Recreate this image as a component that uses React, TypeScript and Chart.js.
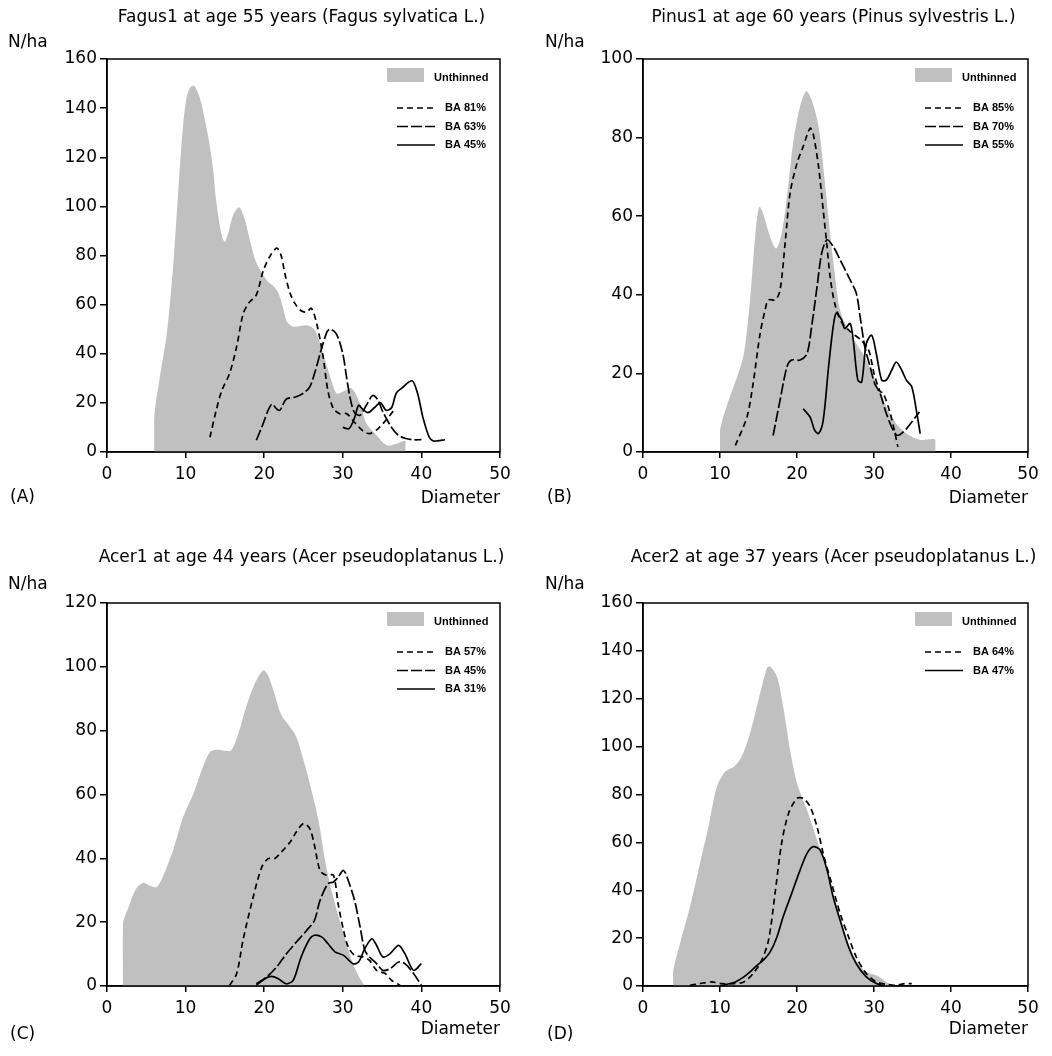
import React, { useEffect, useRef } from "react";
import { Chart, registerables } from "chart.js";

Chart.register(...registerables);

type Pt = [number, number];

// ---------- Data: [diameter, N/ha] ----------
const diameterTicks = [0, 10, 20, 30, 40, 50];

// (A) Fagus1
const fagusUnthinned: Pt[] = [[6,0],[6,14],[6.7,30],[7.6,48],[8.4,75],[9.0,103],[9.6,130],[10.1,144],[10.6,148.5],[11.1,149],[11.6,146],[12.0,142],[12.9,128],[13.5,115],[13.9,102],[14.6,88],[15.0,85.6],[15.5,90],[16.0,96],[16.8,99.6],[17.5,95],[18.2,86],[19.0,77],[20.3,70],[21.6,66],[22.3,60],[22.9,53],[23.7,51],[25.4,51.6],[26.2,50.5],[26.7,48],[27.5,40],[28.4,30.6],[29.2,23.8],[30.0,24.5],[31.1,26],[32.2,19.7],[33.0,11.6],[34.3,6.8],[35.6,2.7],[36.8,3.4],[38.0,4.5],[38.0,0]];
const fagusBA81: Pt[] = [[13.1,6],[13.9,17],[14.6,25],[15.6,32],[16.5,43],[17.3,56],[18.0,60.5],[19.0,64],[19.9,74],[20.7,79.5],[21.6,83],[22.2,79.5],[22.6,73],[23.3,64.6],[23.9,60.5],[24.7,57.5],[25.4,57],[26.0,58.5],[26.7,52],[27.5,38.7],[28.1,25],[28.8,17.7],[29.6,15.6],[30.5,15.6],[31.5,12],[32.6,8.5],[33.4,7.5],[34.5,9.5],[35.5,13],[36.5,17]];
const fagusBA63: Pt[] = [[19.0,4.8],[19.8,11],[20.5,17],[21.0,19.5],[21.6,17.5],[22.0,17],[22.8,21.5],[24.0,22.4],[25.0,24],[25.8,26.5],[26.5,33],[27.2,41],[28.0,49],[28.4,50],[29.2,48],[30.0,40],[30.5,30],[31.0,21],[31.5,16],[32.2,15],[33.0,19],[33.8,23],[34.5,21],[35.0,17],[36.0,11],[37.0,7],[38.0,5.5],[39.0,5],[40.0,5]];
const fagusBA45: Pt[] = [[30.0,10],[30.8,9.5],[31.5,14],[32.0,19],[32.5,17.5],[33.2,16],[34.0,18],[34.8,20],[35.5,17],[36.2,18],[36.8,24],[37.5,26],[38.8,29],[39.5,24],[40.2,14],[41.0,6],[41.5,4.5],[42.0,4.5],[43.0,5]];

// (B) Pinus1
const pinusUnthinned: Pt[] = [[10,0],[10,5.5],[10.9,11.9],[12.2,19],[13.1,25],[13.9,38.7],[14.6,55.6],[15.1,62.4],[15.6,60.7],[16.5,54.8],[17.3,51.8],[18.0,55.6],[18.7,65],[19.5,78.6],[20.4,88],[21.2,91.8],[21.9,89.6],[22.8,82.8],[23.6,69],[24.3,55.6],[24.9,45.5],[25.6,36],[26.7,31],[27.7,27.6],[29.0,23.4],[30.3,17.4],[31.6,11.5],[32.9,7.2],[34.2,4.7],[36.0,3.1],[38.0,3.1],[38.0,0]];
const pinusBA85: Pt[] = [[12.0,1.7],[13.5,8.9],[14.3,17.4],[15.2,30],[15.9,36.5],[16.3,38.7],[17.2,38.7],[17.8,41.2],[18.5,54],[19.1,65.8],[20.0,73.5],[20.8,77.7],[21.7,82.4],[22.1,81],[22.8,72.6],[23.4,61.6],[23.9,52.3],[24.3,44.6],[24.9,37.8],[25.8,33],[27.0,30.5],[28.3,28.5],[29.3,26],[30.0,20],[30.8,15.4],[31.2,15],[32.1,9.9],[32.7,5],[33.1,1.3]];
const pinusBA70: Pt[] = [[16.9,4.2],[17.8,13.2],[18.7,21.7],[19.3,23.4],[20.4,23.4],[21.3,25],[21.9,31.9],[22.6,42],[23.2,50.5],[23.9,54],[24.7,52.3],[25.6,48.9],[26.9,43.8],[27.7,40.4],[28.2,34.4],[28.8,26.8],[29.5,21.7],[30.1,17.4],[30.8,14.9],[31.6,9.8],[32.5,5.5],[33.1,4.2],[34.2,5.9],[35.9,10.2]];
const pinusBA55: Pt[] = [[20.8,11],[21.7,8.9],[22.3,5.5],[22.8,4.7],[23.4,8],[24.1,21.7],[24.7,31.9],[25.1,35.3],[25.8,33.6],[26.2,31.4],[26.9,32.7],[27.3,28.5],[27.9,18.3],[28.4,17.8],[29.0,27.6],[29.7,29.7],[30.3,25],[31.0,18.3],[31.6,18.3],[32.3,20.8],[32.9,22.9],[33.6,20.8],[34.2,18.3],[34.9,16.6],[35.5,10.6],[36.0,4.7]];

// (C) Acer1
const acer1Unthinned: Pt[] = [[2.0,0],[2.0,19],[2.9,25.8],[3.7,30.5],[4.6,32.3],[5.4,31.5],[6.3,31],[7.1,34.2],[8.4,42.5],[9.7,53],[11.0,60.3],[12.2,68.6],[13.1,73.3],[13.9,74],[14.8,73.8],[15.8,73.8],[16.7,79],[17.7,87.4],[18.8,94.7],[19.9,98.9],[20.5,97.3],[21.3,91.6],[22.2,84.8],[23.3,81.1],[24.1,78],[25.0,70.7],[25.8,63.4],[26.9,51.9],[27.9,37.3],[29.0,25.8],[30.1,16.4],[31.3,7],[32.2,2.3],[32.8,0]];
const acer1BA57: Pt[] = [[15.6,0.2],[16.5,3.9],[17.3,14.3],[18.6,27.9],[19.7,37.3],[20.5,39.9],[21.3,39.9],[22.2,42],[23.3,45.1],[24.1,48.3],[25.0,50.9],[25.8,49.3],[26.4,44],[27.1,36.2],[27.9,34.7],[28.8,34.7],[29.4,25.8],[30.1,17.4],[30.7,12.2],[31.5,9.6],[32.6,9.1],[33.4,8],[34.3,4.9],[35.4,3.9],[36.2,1.8],[37.3,0.2]];
const acer1BA45: Pt[] = [[19.0,0.7],[20.3,2.8],[21.6,6],[22.8,10],[24.1,13.8],[25.4,17.4],[26.4,20.6],[27.1,26.8],[28.1,32],[28.8,32.6],[29.4,34.1],[30.1,36.2],[30.7,33],[31.5,26.8],[32.2,18.5],[32.8,11.2],[33.4,9.1],[34.3,7],[35.1,4.9],[36.0,5.4],[37.1,7.5],[37.9,7],[39.0,3.9],[40.0,0.2]];
const acer1BA31: Pt[] = [[19.0,0.2],[20.1,2.3],[20.9,3],[21.8,2.3],[22.8,0.7],[23.7,1.8],[24.7,9.1],[25.8,14.8],[26.4,15.9],[27.3,15.4],[28.1,13.3],[29.0,10.7],[30.1,9.6],[31.3,7],[32.0,7.5],[32.8,11.7],[33.7,14.8],[34.3,12.7],[35.1,9.1],[36.0,10.1],[37.1,12.7],[37.9,10.1],[39.0,4.9],[40.0,7]];

// (D) Acer2
const acer2Unthinned: Pt[] = [[3.9,0],[3.9,5.9],[4.8,17.7],[6.1,33],[7.4,51.2],[8.5,66.5],[9.6,83.3],[10.7,89.6],[11.8,91.6],[12.8,95.8],[13.9,105.6],[15.0,119.5],[16.1,132.8],[16.5,133.5],[17.4,129.3],[18.2,116.8],[19.1,98.6],[20.0,84.7],[21.3,73.5],[22.6,61],[23.9,47],[25.2,33],[26.4,20.5],[27.7,10.7],[29.0,5.9],[30.3,4.5],[31.6,1.7],[32.5,0]];
const acer2BA64: Pt[] = [[6.1,0.3],[7.4,1],[8.9,1.7],[10.2,1],[11.8,1],[13.1,1.7],[14.3,5.2],[15.4,10.7],[16.3,19.1],[17.2,40],[18.0,59.6],[18.9,72.1],[20.0,78.4],[20.8,78.4],[21.7,74.9],[22.6,66.5],[23.4,55.4],[24.5,42.8],[25.6,30.3],[26.7,20.5],[27.7,12.1],[29.0,5.2],[30.3,1.7],[31.6,0.7],[32.9,0.3],[34.0,1],[34.9,1]];
const acer2BA47: Pt[] = [[10.0,0],[10.9,0.7],[12.0,1.7],[13.1,3.8],[13.9,5.9],[14.8,8.6],[15.6,10.7],[16.5,14.2],[17.4,20.5],[18.2,28.9],[19.3,38.6],[20.4,48.4],[21.3,55.4],[22.1,58.2],[23.0,56.8],[23.9,48.4],[24.7,37.2],[25.6,27.5],[26.7,16.3],[27.7,9.3],[29.0,3.8],[30.3,1],[31.4,0]];

// ---------- Layout / style ----------
const PANEL_W = 526;
const PANEL_H = 528;
const YW = 45;
const XH = 30;
const FONT = "'DejaVu Sans', sans-serif";
const SHORT_DASH = [6, 4];
const LONG_DASH = [11, 3];
const SOLID: number[] = [];
const GREY = "#c0c0c0";

interface Series { label: string; data: Pt[]; dash: number[]; }
interface PanelSpec {
  x: number; y: number;
  area: { l: number; t: number; r: number; b: number };
  title: string; letter: string; yMax: number;
  unthinned: Pt[]; series: Series[];
  titleY: number; nhaX: number; nhaY: number; letterX: number; letterY: number; diamY: number;
}

const panels: PanelSpec[] = [
  {
    x: 0, y: 0, area: { l: 107, t: 59, r: 500, b: 452 },
    title: "Fagus1 at age 55 years (Fagus sylvatica L.)", letter: "(A)", yMax: 160,
    unthinned: fagusUnthinned,
    series: [
      { label: "BA 81%", data: fagusBA81, dash: SHORT_DASH },
      { label: "BA 63%", data: fagusBA63, dash: LONG_DASH },
      { label: "BA 45%", data: fagusBA45, dash: SOLID },
    ],
    titleY: 18, nhaX: 8, nhaY: 43, letterX: 10, letterY: 498, diamY: 499,
  },
  {
    x: 526, y: 0, area: { l: 117, t: 59, r: 502, b: 452 },
    title: "Pinus1 at age 60 years (Pinus sylvestris L.)", letter: "(B)", yMax: 100,
    unthinned: pinusUnthinned,
    series: [
      { label: "BA 85%", data: pinusBA85, dash: SHORT_DASH },
      { label: "BA 70%", data: pinusBA70, dash: LONG_DASH },
      { label: "BA 55%", data: pinusBA55, dash: SOLID },
    ],
    titleY: 18, nhaX: 19, nhaY: 43, letterX: 21, letterY: 498, diamY: 499,
  },
  {
    x: 0, y: 528, area: { l: 107, t: 75, r: 500, b: 458 },
    title: "Acer1 at age 44 years (Acer pseudoplatanus L.)", letter: "(C)", yMax: 120,
    unthinned: acer1Unthinned,
    series: [
      { label: "BA 57%", data: acer1BA57, dash: SHORT_DASH },
      { label: "BA 45%", data: acer1BA45, dash: LONG_DASH },
      { label: "BA 31%", data: acer1BA31, dash: SOLID },
    ],
    titleY: 30, nhaX: 8, nhaY: 57, letterX: 10, letterY: 507, diamY: 502,
  },
  {
    x: 526, y: 528, area: { l: 117, t: 75, r: 502, b: 458 },
    title: "Acer2 at age 37 years (Acer pseudoplatanus L.)", letter: "(D)", yMax: 160,
    unthinned: acer2Unthinned,
    series: [
      { label: "BA 64%", data: acer2BA64, dash: SHORT_DASH },
      { label: "BA 47%", data: acer2BA47, dash: SOLID },
    ],
    titleY: 30, nhaX: 19, nhaY: 57, letterX: 21, letterY: 507, diamY: 502,
  },
];

const toPts = (arr: Pt[]) => arr.map(([x, y]) => ({ x, y }));

function makeDecor(spec: PanelSpec) {
  return {
    id: "decor",
    afterDraw(chart: any) {
      const ctx: CanvasRenderingContext2D = chart.ctx;
      const ca = chart.chartArea;
      ctx.save();
      // frame
      ctx.strokeStyle = "#000";
      ctx.lineWidth = 1.5;
      ctx.setLineDash([]);
      ctx.strokeRect(ca.left, ca.top, ca.right - ca.left, ca.bottom - ca.top);
      // texts
      ctx.fillStyle = "#000";
      ctx.font = `17px ${FONT}`;
      ctx.textBaseline = "middle";
      ctx.textAlign = "center";
      ctx.fillText(spec.title, (ca.left + ca.right) / 2 - 2, spec.titleY);
      ctx.textAlign = "left";
      ctx.fillText("N/ha", spec.nhaX, spec.nhaY);
      ctx.fillText(spec.letter, spec.letterX, spec.letterY);
      ctx.textAlign = "right";
      ctx.fillText("Diameter", ca.right, spec.diamY);
      // legend
      const R = ca.right, T = ca.top;
      ctx.fillStyle = GREY;
      ctx.fillRect(R - 113, T + 9, 37, 14);
      ctx.fillStyle = "#000";
      ctx.font = "bold 11px 'Liberation Sans', sans-serif";
      ctx.textAlign = "left";
      ctx.fillText("Unthinned", R - 66, T + 18.5);
      const rowsY = [49, 67.5, 86];
      spec.series.forEach((s, i) => {
        const yy = T + rowsY[i];
        ctx.beginPath();
        ctx.setLineDash(s.dash);
        ctx.lineWidth = 1.6;
        ctx.moveTo(R - 103, yy);
        ctx.lineTo(R - 65, yy);
        ctx.stroke();
        ctx.setLineDash([]);
        ctx.fillText(s.label, R - 55, yy);
      });
      ctx.restore();
    },
  };
}

function Panel({ spec }: { spec: PanelSpec }) {
  const ref = useRef<HTMLCanvasElement>(null);
  useEffect(() => {
    if (!ref.current) return;
    const a = spec.area;
    const tickFont = { family: FONT, size: 17 };
    const chart = new Chart(ref.current, {
      type: "line",
      data: {
        datasets: [
          ...spec.series.map((s) => ({
            label: s.label,
            data: toPts(s.data),
            borderColor: "#000",
            borderWidth: 1.7,
            borderDash: s.dash,
            pointRadius: 0,
            fill: false,
            tension: 0.3,
            order: 1,
          })),
          {
            label: "Unthinned",
            data: toPts(spec.unthinned),
            borderColor: "rgba(0,0,0,0)",
            borderWidth: 0,
            backgroundColor: GREY,
            fill: "origin",
            pointRadius: 0,
            tension: 0.3,
            order: 2,
          },
        ],
      },
      options: {
        responsive: false,
        animation: false,
        devicePixelRatio: 1,
        layout: {
          padding: {
            left: a.l - YW,
            right: PANEL_W - a.r,
            top: a.t,
            bottom: PANEL_H - a.b - XH,
          },
        },
        plugins: {
          legend: { display: false },
          title: { display: false },
          tooltip: { enabled: false },
        },
        scales: {
          x: {
            type: "linear",
            min: 0,
            max: 50,
            afterBuildTicks: (scale: any) => {
              scale.ticks = diameterTicks.map((v) => ({ value: v }));
            },
            ticks: { font: tickFont, color: "#000", padding: 6, maxRotation: 0 },
            grid: { display: true, drawOnChartArea: false, drawTicks: true, tickLength: 6, color: "#000", lineWidth: 1.5 },
            border: { display: true, color: "#000", width: 1.5 },
            afterFit: (scale: any) => { scale.height = XH; },
          },
          y: {
            type: "linear",
            min: 0,
            max: spec.yMax,
            ticks: { stepSize: 20, font: tickFont, color: "#000", padding: 3 },
            grid: { display: true, drawOnChartArea: false, drawTicks: true, tickLength: 7, color: "#000", lineWidth: 1.5 },
            border: { display: true, color: "#000", width: 1.5 },
            afterFit: (scale: any) => { scale.width = YW; },
          },
        },
      },
      plugins: [makeDecor(spec)],
    } as any);
    return () => chart.destroy();
  }, [spec]);
  return (
    <canvas
      ref={ref}
      width={PANEL_W}
      height={PANEL_H}
      style={{ position: "absolute", left: spec.x, top: spec.y, width: PANEL_W, height: PANEL_H }}
    />
  );
}

export default function App() {
  return (
    <div style={{ position: "absolute", left: 0, top: 0, width: 1052, height: 1056, background: "#fff" }}>
      {panels.map((p, i) => (
        <Panel key={i} spec={p} />
      ))}
    </div>
  );
}
